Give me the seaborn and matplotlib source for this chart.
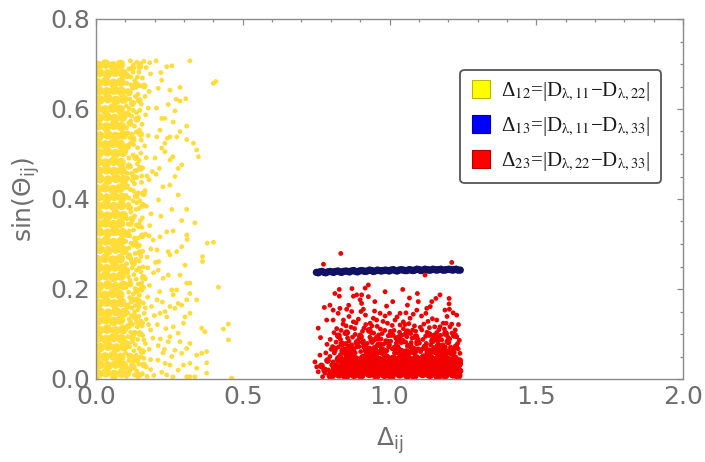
import matplotlib
matplotlib.use("Agg")
import numpy as np
import pandas as pd
import matplotlib.pyplot as plt
from matplotlib.lines import Line2D
from matplotlib.ticker import MultipleLocator
from matplotlib.font_manager import FontProperties
import seaborn as sns

# ---------------------------------------------------------------------------
# Scan points (Delta_ij, sin(Theta_ij))
# ---------------------------------------------------------------------------
# Delta_12: densely populated strip next to Delta = 0
yellow_dense = [
    (0.007, 0.011), (0.034, 0.014), (0.061, 0.010), (0.088, 0.013),
    (0.012, 0.032), (0.040, 0.029), (0.067, 0.033), (0.093, 0.030),
    (0.005, 0.051), (0.031, 0.049), (0.058, 0.052), (0.084, 0.048),
    (0.014, 0.070), (0.042, 0.073), (0.069, 0.069), (0.095, 0.072),
    (0.008, 0.091), (0.035, 0.088), (0.060, 0.092), (0.086, 0.089),
    (0.011, 0.108), (0.038, 0.111), (0.066, 0.107), (0.092, 0.110),
    (0.006, 0.129), (0.032, 0.132), (0.059, 0.128), (0.083, 0.131),
    (0.013, 0.149), (0.041, 0.146), (0.068, 0.150), (0.094, 0.147),
    (0.009, 0.168), (0.036, 0.171), (0.062, 0.167), (0.087, 0.170),
    (0.004, 0.189), (0.030, 0.186), (0.057, 0.190), (0.081, 0.187),
    (0.012, 0.206), (0.040, 0.209), (0.067, 0.205), (0.093, 0.208),
    (0.007, 0.227), (0.033, 0.230), (0.060, 0.226), (0.085, 0.229),
    (0.010, 0.248), (0.037, 0.245), (0.064, 0.249), (0.090, 0.246),
    (0.005, 0.265), (0.031, 0.268), (0.058, 0.264), (0.082, 0.267),
    (0.013, 0.288), (0.041, 0.285), (0.068, 0.289), (0.094, 0.286),
    (0.008, 0.304), (0.035, 0.307), (0.061, 0.303), (0.086, 0.306),
    (0.011, 0.327), (0.039, 0.324), (0.065, 0.328), (0.091, 0.325),
    (0.006, 0.344), (0.032, 0.347), (0.059, 0.343), (0.083, 0.346),
    (0.012, 0.365), (0.040, 0.362), (0.067, 0.366), (0.093, 0.363),
    (0.008, 0.384), (0.034, 0.387), (0.061, 0.383), (0.087, 0.386),
    (0.010, 0.405), (0.037, 0.402), (0.063, 0.406), (0.089, 0.403),
    (0.005, 0.422), (0.031, 0.425), (0.058, 0.421), (0.082, 0.424),
    (0.013, 0.445), (0.041, 0.442), (0.068, 0.446), (0.094, 0.443),
    (0.009, 0.462), (0.036, 0.465), (0.062, 0.461), (0.088, 0.464),
    (0.007, 0.483), (0.033, 0.480), (0.060, 0.484), (0.085, 0.481),
    (0.011, 0.502), (0.039, 0.505), (0.066, 0.501), (0.092, 0.504),
    (0.006, 0.523), (0.032, 0.520), (0.058, 0.524), (0.083, 0.521),
    (0.012, 0.540), (0.040, 0.543), (0.067, 0.539), (0.093, 0.542),
    (0.008, 0.563), (0.035, 0.560), (0.061, 0.564), (0.086, 0.561),
    (0.010, 0.580), (0.037, 0.583), (0.064, 0.579), (0.090, 0.582),
    (0.005, 0.601), (0.031, 0.598), (0.057, 0.602), (0.082, 0.599),
    (0.013, 0.620), (0.041, 0.623), (0.068, 0.619), (0.094, 0.622),
    (0.009, 0.641), (0.036, 0.638), (0.062, 0.642), (0.087, 0.639),
    (0.007, 0.658), (0.033, 0.661), (0.060, 0.657), (0.085, 0.660),
    (0.011, 0.681), (0.039, 0.678), (0.066, 0.682), (0.092, 0.679),
    (0.006, 0.697), (0.032, 0.700), (0.058, 0.696), (0.083, 0.699),
]

# Delta_12: transition zone just outside the dense strip
yellow_mid = [
    (0.108, 0.012), (0.127, 0.027), (0.146, 0.008), (0.115, 0.051), (0.139, 0.043),
    (0.158, 0.061), (0.104, 0.079), (0.124, 0.092), (0.149, 0.101), (0.111, 0.118),
    (0.134, 0.137), (0.155, 0.124), (0.107, 0.162), (0.126, 0.176), (0.146, 0.172),
    (0.116, 0.211), (0.139, 0.196), (0.161, 0.226), (0.105, 0.238), (0.128, 0.257),
    (0.149, 0.281), (0.112, 0.272), (0.134, 0.302), (0.157, 0.318), (0.106, 0.321),
    (0.123, 0.356), (0.145, 0.341), (0.114, 0.381), (0.137, 0.407), (0.159, 0.386),
    (0.104, 0.428), (0.129, 0.449), (0.151, 0.468), (0.112, 0.473), (0.135, 0.492),
    (0.108, 0.517), (0.126, 0.531), (0.152, 0.544), (0.115, 0.568), (0.139, 0.577),
    (0.106, 0.589), (0.124, 0.612), (0.147, 0.619), (0.113, 0.636), (0.137, 0.655),
    (0.105, 0.674), (0.125, 0.691), (0.149, 0.694), (0.164, 0.651), (0.162, 0.412),
    (0.158, 0.203), (0.163, 0.031),
]

# Delta_12: thinning cloud further out
yellow_scatter = [
    (0.104, 0.006), (0.118, 0.021), (0.131, 0.009), (0.112, 0.041), (0.146, 0.033),
    (0.158, 0.012), (0.127, 0.047), (0.171, 0.027), (0.139, 0.018), (0.186, 0.043),
    (0.163, 0.046), (0.197, 0.008), (0.121, 0.031), (0.108, 0.024),
    (0.101, 0.058), (0.115, 0.072), (0.129, 0.063), (0.142, 0.088), (0.108, 0.094),
    (0.153, 0.061), (0.168, 0.079), (0.124, 0.083), (0.181, 0.066), (0.137, 0.053),
    (0.194, 0.091), (0.159, 0.097), (0.212, 0.074),
    (0.103, 0.112), (0.117, 0.128), (0.132, 0.104), (0.146, 0.139), (0.109, 0.147),
    (0.124, 0.121), (0.157, 0.118), (0.171, 0.133), (0.138, 0.126), (0.186, 0.109),
    (0.164, 0.146), (0.199, 0.141), (0.121, 0.141),
    (0.106, 0.158), (0.119, 0.171), (0.134, 0.163), (0.148, 0.186), (0.111, 0.193),
    (0.127, 0.189), (0.161, 0.169), (0.176, 0.182), (0.142, 0.154), (0.189, 0.161),
    (0.156, 0.197), (0.208, 0.176),
    (0.102, 0.204), (0.116, 0.219), (0.129, 0.232), (0.144, 0.211), (0.107, 0.243),
    (0.123, 0.247), (0.153, 0.238), (0.168, 0.223), (0.138, 0.242), (0.182, 0.208),
    (0.196, 0.236), (0.161, 0.249),
    (0.104, 0.256), (0.118, 0.268), (0.133, 0.279), (0.112, 0.291), (0.147, 0.262),
    (0.126, 0.297), (0.159, 0.284), (0.174, 0.271), (0.141, 0.294), (0.187, 0.289),
    (0.203, 0.259),
    (0.101, 0.306), (0.115, 0.318), (0.128, 0.331), (0.109, 0.344), (0.143, 0.313),
    (0.122, 0.349), (0.156, 0.337), (0.137, 0.342), (0.169, 0.322), (0.183, 0.341),
    (0.195, 0.309),
    (0.105, 0.356), (0.119, 0.371), (0.132, 0.362), (0.111, 0.388), (0.146, 0.379),
    (0.126, 0.396), (0.158, 0.358), (0.139, 0.392), (0.172, 0.384), (0.187, 0.367),
    (0.103, 0.408), (0.117, 0.421), (0.131, 0.434), (0.108, 0.446), (0.144, 0.414),
    (0.124, 0.441), (0.155, 0.437), (0.167, 0.419), (0.181, 0.443), (0.139, 0.448),
    (0.106, 0.457), (0.118, 0.472), (0.133, 0.463), (0.112, 0.491), (0.147, 0.486),
    (0.126, 0.498), (0.159, 0.469), (0.171, 0.492), (0.141, 0.478), (0.192, 0.461),
    (0.102, 0.509), (0.116, 0.523), (0.129, 0.536), (0.109, 0.547), (0.142, 0.514),
    (0.123, 0.544), (0.154, 0.531), (0.166, 0.518), (0.137, 0.549), (0.178, 0.541),
    (0.104, 0.558), (0.118, 0.573), (0.131, 0.562), (0.111, 0.589), (0.145, 0.581),
    (0.127, 0.597), (0.157, 0.566), (0.169, 0.587), (0.138, 0.592),
    (0.103, 0.607), (0.116, 0.622), (0.129, 0.614), (0.108, 0.641), (0.143, 0.633),
    (0.124, 0.646), (0.154, 0.611), (0.167, 0.628), (0.136, 0.648), (0.181, 0.639),
    (0.105, 0.657), (0.119, 0.671), (0.132, 0.663), (0.112, 0.689), (0.146, 0.682),
    (0.127, 0.698), (0.158, 0.669), (0.139, 0.704), (0.171, 0.692), (0.152, 0.701),
    (0.186, 0.678), (0.117, 0.707), (0.163, 0.706), (0.183, 0.703), (0.205, 0.707),
    (0.113, 0.015), (0.126, 0.038), (0.141, 0.006), (0.152, 0.049), (0.119, 0.052),
    (0.134, 0.076), (0.147, 0.068), (0.111, 0.079), (0.163, 0.087), (0.128, 0.098),
    (0.118, 0.104), (0.141, 0.116), (0.152, 0.129), (0.113, 0.133), (0.131, 0.149),
    (0.147, 0.161), (0.121, 0.158), (0.168, 0.158), (0.139, 0.178), (0.115, 0.181),
    (0.133, 0.201), (0.156, 0.214), (0.111, 0.227), (0.137, 0.222), (0.147, 0.247),
    (0.121, 0.261), (0.153, 0.272), (0.113, 0.276), (0.136, 0.266), (0.119, 0.302),
    (0.148, 0.297), (0.131, 0.313), (0.114, 0.329), (0.151, 0.352), (0.119, 0.343),
    (0.136, 0.377), (0.112, 0.402), (0.149, 0.396), (0.128, 0.418), (0.156, 0.451),
    (0.121, 0.457), (0.138, 0.463), (0.111, 0.476), (0.153, 0.502), (0.128, 0.521),
    (0.116, 0.536), (0.148, 0.553), (0.121, 0.584), (0.149, 0.597), (0.113, 0.601),
    (0.134, 0.628), (0.149, 0.652), (0.119, 0.654), (0.141, 0.671), (0.126, 0.682),
    (0.178, 0.602), (0.174, 0.451), (0.181, 0.318), (0.176, 0.247), (0.179, 0.121),
    (0.186, 0.021), (0.174, 0.006),
    (0.221, 0.681), (0.241, 0.694), (0.258, 0.696), (0.320, 0.707), (0.224, 0.664),
    (0.212, 0.646), (0.400, 0.657), (0.408, 0.661), (0.286, 0.648), (0.252, 0.642),
    (0.273, 0.622), (0.286, 0.618), (0.306, 0.623), (0.246, 0.610), (0.269, 0.596),
    (0.224, 0.579), (0.235, 0.579), (0.263, 0.571), (0.309, 0.562), (0.286, 0.550),
    (0.275, 0.538), (0.252, 0.538), (0.243, 0.535), (0.309, 0.532), (0.332, 0.524),
    (0.343, 0.509), (0.349, 0.494), (0.292, 0.476), (0.280, 0.468), (0.252, 0.487),
    (0.262, 0.494), (0.235, 0.505), (0.269, 0.450), (0.280, 0.409), (0.228, 0.427),
    (0.252, 0.431), (0.218, 0.553), (0.207, 0.538), (0.235, 0.524), (0.224, 0.513),
    (0.258, 0.377), (0.309, 0.377), (0.337, 0.347), (0.292, 0.352), (0.241, 0.327),
    (0.263, 0.329), (0.218, 0.316), (0.309, 0.320), (0.311, 0.310), (0.379, 0.302),
    (0.400, 0.304), (0.292, 0.294), (0.275, 0.283), (0.246, 0.283), (0.252, 0.276),
    (0.363, 0.272), (0.363, 0.261), (0.303, 0.253), (0.212, 0.242), (0.229, 0.224),
    (0.246, 0.231), (0.286, 0.231), (0.320, 0.213), (0.309, 0.213), (0.417, 0.204),
    (0.258, 0.198), (0.275, 0.198), (0.263, 0.187), (0.320, 0.190), (0.343, 0.176),
    (0.309, 0.176), (0.292, 0.164), (0.280, 0.168), (0.252, 0.161), (0.269, 0.157),
    (0.235, 0.150), (0.303, 0.138), (0.320, 0.146), (0.241, 0.138), (0.218, 0.146),
    (0.451, 0.122), (0.434, 0.111), (0.451, 0.087), (0.360, 0.113), (0.371, 0.105),
    (0.298, 0.124), (0.263, 0.116), (0.280, 0.102), (0.252, 0.094), (0.246, 0.083),
    (0.286, 0.083), (0.320, 0.079), (0.309, 0.068), (0.343, 0.053), (0.360, 0.057),
    (0.377, 0.061), (0.269, 0.064), (0.292, 0.057), (0.258, 0.050), (0.377, 0.036),
    (0.320, 0.035), (0.298, 0.031), (0.343, 0.024), (0.280, 0.020), (0.377, 0.013),
    (0.320, 0.005), (0.337, 0.005), (0.309, 0.005), (0.462, 0.002), (0.262, 0.005),
    (0.241, 0.009), (0.252, 0.031), (0.235, 0.035),
    (0.205, 0.455), (0.213, 0.398), (0.221, 0.362), (0.208, 0.287), (0.217, 0.194),
    (0.226, 0.171), (0.209, 0.121), (0.219, 0.089), (0.228, 0.058), (0.211, 0.042),
    (0.224, 0.015), (0.233, 0.066), (0.238, 0.112), (0.214, 0.261), (0.206, 0.602),
    (0.201, 0.491), (0.216, 0.468),
]

# Delta_13: narrow band at sin(Theta) ~ 0.24
blue_band = [
    (0.751, 0.237), (0.762, 0.238), (0.777, 0.237), (0.789, 0.238), (0.804, 0.238),
    (0.816, 0.239), (0.831, 0.238), (0.843, 0.239), (0.858, 0.239), (0.870, 0.240),
    (0.885, 0.239), (0.897, 0.240), (0.912, 0.240), (0.924, 0.240), (0.939, 0.241),
    (0.951, 0.240), (0.966, 0.241), (0.978, 0.241), (0.993, 0.241), (1.005, 0.242),
    (1.020, 0.241), (1.032, 0.242), (1.047, 0.242), (1.059, 0.241), (1.074, 0.242),
    (1.086, 0.242), (1.101, 0.243), (1.113, 0.242), (1.128, 0.243), (1.140, 0.242),
    (1.155, 0.243), (1.167, 0.243), (1.182, 0.242), (1.194, 0.243), (1.209, 0.243),
    (1.221, 0.243), (1.233, 0.242), (1.241, 0.242),
    (0.757, 0.236), (0.770, 0.239), (0.783, 0.236), (0.797, 0.239), (0.810, 0.237),
    (0.824, 0.240), (0.837, 0.237), (0.851, 0.240), (0.864, 0.238), (0.878, 0.241),
    (0.891, 0.238), (0.905, 0.241), (0.918, 0.239), (0.932, 0.242), (0.945, 0.239),
    (0.959, 0.242), (0.972, 0.240), (0.986, 0.242), (0.999, 0.240), (1.013, 0.243),
    (1.026, 0.240), (1.040, 0.243), (1.053, 0.241), (1.067, 0.243), (1.080, 0.241),
    (1.094, 0.244), (1.107, 0.241), (1.121, 0.244), (1.134, 0.242), (1.148, 0.244),
    (1.161, 0.242), (1.175, 0.244), (1.188, 0.242), (1.202, 0.244), (1.215, 0.242),
    (1.227, 0.244),
]

# Delta_23: dense layer close to sin(Theta) = 0
red_dense = [
    (0.801, 0.008), (0.828, 0.011), (0.851, 0.007), (0.879, 0.010), (0.903, 0.009),
    (0.932, 0.012), (0.955, 0.008), (0.983, 0.010), (1.006, 0.007), (1.035, 0.011),
    (1.061, 0.009), (1.084, 0.008), (1.113, 0.012), (1.137, 0.010), (1.165, 0.007),
    (1.189, 0.009), (1.217, 0.011), (1.233, 0.008),
    (0.814, 0.017), (0.841, 0.016), (0.866, 0.019), (0.891, 0.015), (0.917, 0.018),
    (0.943, 0.016), (0.969, 0.019), (0.994, 0.015), (1.020, 0.017), (1.047, 0.019),
    (1.072, 0.016), (1.098, 0.018), (1.124, 0.015), (1.151, 0.019), (1.176, 0.017),
    (1.202, 0.016), (1.226, 0.018),
    (0.815, 0.027), (0.840, 0.025), (0.867, 0.029), (0.892, 0.026), (0.919, 0.028),
    (0.944, 0.024), (0.970, 0.027), (0.996, 0.029), (1.021, 0.025), (1.048, 0.028),
    (1.073, 0.026), (1.099, 0.027), (1.125, 0.024), (1.150, 0.029), (1.177, 0.026),
    (1.203, 0.028), (1.228, 0.025),
    (0.843, 0.036), (0.871, 0.038), (0.897, 0.035), (0.924, 0.037), (0.949, 0.034),
    (0.975, 0.038), (1.001, 0.036), (1.027, 0.035), (1.053, 0.038), (1.079, 0.036),
    (1.105, 0.034), (1.131, 0.037), (1.157, 0.035), (1.183, 0.038), (1.209, 0.036),
    (1.235, 0.034),
    (0.829, 0.044), (0.858, 0.047), (0.884, 0.043), (0.911, 0.046), (0.935, 0.045),
    (0.962, 0.042), (0.988, 0.047), (1.013, 0.044), (1.040, 0.046), (1.065, 0.043),
    (1.091, 0.045), (1.118, 0.047), (1.142, 0.044), (1.169, 0.046), (1.195, 0.043),
    (1.221, 0.045),
    (0.845, 0.062), (0.872, 0.060), (0.925, 0.063), (0.951, 0.059), (0.978, 0.061),
    (1.030, 0.062), (1.057, 0.058), (1.083, 0.063), (1.135, 0.060), (1.160, 0.062),
    (1.187, 0.059), (1.210, 0.061),
]

# Delta_23: transition zone above the dense layer
red_mid = [
    (0.812, 0.067), (0.838, 0.078), (0.863, 0.071), (0.889, 0.081), (0.915, 0.072),
    (0.940, 0.086), (0.967, 0.076), (0.992, 0.082), (1.018, 0.069), (1.044, 0.084),
    (1.070, 0.074), (1.096, 0.082), (1.121, 0.070), (1.147, 0.085), (1.172, 0.073),
    (1.199, 0.083), (1.226, 0.071),
    (0.826, 0.096), (0.854, 0.103), (0.901, 0.094), (0.931, 0.108), (0.958, 0.091),
    (1.005, 0.099), (1.032, 0.092), (1.061, 0.105), (1.090, 0.094), (1.135, 0.099),
    (1.163, 0.092), (1.191, 0.101), (1.222, 0.097),
    (0.779, 0.020), (0.789, 0.041), (0.768, 0.029), (1.240, 0.018), (1.239, 0.041),
]

# Delta_23: looser points further up
red_scatter = [
    (0.812, 0.058), (0.826, 0.071), (0.839, 0.062), (0.851, 0.079), (0.864, 0.057),
    (0.877, 0.068), (0.889, 0.083), (0.902, 0.061), (0.915, 0.074), (0.928, 0.056),
    (0.941, 0.081), (0.953, 0.066), (0.966, 0.059), (0.979, 0.077), (0.991, 0.063),
    (1.004, 0.084), (1.017, 0.058), (1.029, 0.072), (1.042, 0.064), (1.055, 0.082),
    (1.068, 0.057), (1.080, 0.069), (1.093, 0.078), (1.106, 0.061), (1.119, 0.073),
    (1.131, 0.056), (1.144, 0.084), (1.157, 0.065), (1.169, 0.058), (1.182, 0.076),
    (1.195, 0.062), (1.208, 0.071), (1.221, 0.059), (1.234, 0.067),
    (0.818, 0.082), (0.846, 0.066), (0.871, 0.076), (0.896, 0.072), (0.922, 0.065),
    (0.947, 0.070), (0.972, 0.068), (0.997, 0.071), (1.023, 0.079), (1.049, 0.061),
    (1.074, 0.081), (1.099, 0.067), (1.125, 0.079), (1.150, 0.070), (1.176, 0.066),
    (1.201, 0.080), (1.227, 0.074),
    (0.798, 0.088), (0.822, 0.097), (0.835, 0.108), (0.857, 0.091), (0.869, 0.115),
    (0.883, 0.099), (0.894, 0.087), (0.908, 0.106), (0.919, 0.121), (0.933, 0.093),
    (0.946, 0.102), (0.958, 0.117), (0.971, 0.089), (0.984, 0.108), (0.996, 0.096),
    (1.009, 0.119), (1.021, 0.091), (1.034, 0.104), (1.047, 0.112), (1.059, 0.094),
    (1.072, 0.101), (1.085, 0.118), (1.097, 0.088), (1.110, 0.109), (1.123, 0.095),
    (1.136, 0.114), (1.148, 0.091), (1.161, 0.103), (1.174, 0.097), (1.187, 0.111),
    (1.199, 0.093), (1.213, 0.102), (1.238, 0.086),
    (0.842, 0.122), (0.881, 0.112), (0.927, 0.109), (0.963, 0.098), (1.003, 0.106),
    (1.041, 0.097), (1.066, 0.123), (1.117, 0.122), (1.154, 0.116), (1.193, 0.124),
    (0.811, 0.103), (0.787, 0.077), (0.801, 0.066), (0.783, 0.058),
    (0.806, 0.072), (0.833, 0.088), (0.848, 0.101), (0.862, 0.084), (0.874, 0.093),
    (0.887, 0.071), (0.899, 0.098), (0.911, 0.085), (0.924, 0.079), (0.937, 0.103),
    (0.949, 0.087), (0.961, 0.078), (0.975, 0.101), (0.987, 0.085), (1.000, 0.076),
    (1.013, 0.097), (1.026, 0.086), (1.038, 0.081), (1.051, 0.099), (1.063, 0.075),
    (1.077, 0.091), (1.089, 0.106), (1.102, 0.080), (1.114, 0.088), (1.128, 0.104),
    (1.140, 0.076), (1.152, 0.098), (1.165, 0.084), (1.178, 0.087), (1.190, 0.071),
    (1.205, 0.089), (1.218, 0.096), (1.232, 0.079),
    (0.820, 0.112), (0.852, 0.118), (0.886, 0.125), (0.913, 0.113), (0.940, 0.118),
    (0.969, 0.111), (0.993, 0.124), (1.015, 0.108), (1.053, 0.121), (1.079, 0.109),
    (1.105, 0.115), (1.131, 0.128), (1.168, 0.109), (1.206, 0.116), (1.235, 0.121),
    (0.815, 0.063), (0.833, 0.054), (0.858, 0.073), (0.883, 0.058), (0.907, 0.081),
    (0.932, 0.069), (0.957, 0.074), (0.983, 0.058), (1.010, 0.067), (1.036, 0.056),
    (1.061, 0.073), (1.087, 0.059), (1.112, 0.067), (1.138, 0.064), (1.163, 0.075),
    (1.188, 0.058), (1.214, 0.064), (1.240, 0.057),
    (0.825, 0.146), (0.862, 0.139), (0.918, 0.142), (0.949, 0.151), (0.978, 0.128),
    (1.026, 0.138), (1.070, 0.135), (1.109, 0.140), (1.146, 0.134), (1.196, 0.139),
    (1.217, 0.147), (0.861, 0.164), (0.950, 0.172), (1.068, 0.180), (1.139, 0.161),
    (0.985, 0.194), (1.045, 0.199), (0.872, 0.201),
    (0.746, 0.038), (0.752, 0.027), (0.757, 0.016), (0.772, 0.005), (0.780, 0.013),
    (0.763, 0.053), (0.792, 0.020), (0.803, 0.031), (0.797, 0.050), (0.808, 0.038),
    (0.928, 0.209), (0.917, 0.202), (0.829, 0.199), (0.814, 0.190), (0.829, 0.184),
    (0.905, 0.187), (0.888, 0.187), (0.877, 0.184), (0.928, 0.183), (1.095, 0.190),
    (1.172, 0.187), (1.158, 0.179), (1.203, 0.179), (1.203, 0.167), (0.900, 0.176),
    (0.905, 0.168), (1.098, 0.172), (1.144, 0.172), (1.011, 0.172), (0.797, 0.164),
    (0.778, 0.159), (0.808, 0.153), (0.990, 0.162), (1.061, 0.164), (0.831, 0.157),
    (0.854, 0.155), (0.871, 0.150), (0.911, 0.155), (0.903, 0.150), (1.127, 0.157),
    (1.124, 0.146), (1.189, 0.153), (1.204, 0.155), (0.968, 0.146), (0.985, 0.140),
    (1.000, 0.146), (1.036, 0.146), (1.056, 0.147), (1.093, 0.153), (1.081, 0.144),
    (1.229, 0.142), (0.808, 0.131), (0.786, 0.131), (0.843, 0.131), (0.757, 0.113),
    (0.765, 0.092), (0.877, 0.127), (0.894, 0.133), (0.956, 0.131), (0.934, 0.124),
    (0.945, 0.135), (1.019, 0.131), (1.036, 0.120), (1.047, 0.127), (1.161, 0.131),
    (1.183, 0.124), (1.172, 0.116), (1.224, 0.109), (1.229, 0.094), (1.212, 0.122),
    (0.834, 0.279), (0.775, 0.255), (1.212, 0.259), (1.121, 0.231),
]

legend_labels = [
    r"Δ$_{12}$=|D$_{\mathrm{λ},11}$−D$_{\mathrm{λ},22}$|",
    r"Δ$_{13}$=|D$_{\mathrm{λ},11}$−D$_{\mathrm{λ},33}$|",
    r"Δ$_{23}$=|D$_{\mathrm{λ},22}$−D$_{\mathrm{λ},33}$|",
]
x_ticks = [0.0, 0.5, 1.0, 1.5, 2.0]
y_ticks = [0.0, 0.2, 0.4, 0.6, 0.8]

# ---------------------------------------------------------------------------
YELLOW = "#ffdc37"
BLUE = "#101064"
RED = "#f00000"
GREY = "#6e6e6e"

sns.set_theme(style="white")
plt.rcParams["font.family"] = ["DejaVu Sans"]
plt.rcParams["mathtext.fontset"] = "dejavusans"

fig = plt.figure(figsize=(7.05, 4.62), dpi=100)
ax = fig.add_axes([96 / 705, 1 - 379 / 462, 587 / 705, 360 / 462])


def to_frame(points):
    return pd.DataFrame(points, columns=["delta", "sin_theta"])


layers = [
    (yellow_dense, YELLOW, 48),
    (yellow_mid, YELLOW, 24),
    (yellow_scatter, YELLOW, 12),
    (blue_band, BLUE, 28),
    (red_dense, RED, 44),
    (red_mid, RED, 24),
    (red_scatter, RED, 12),
]
for pts, col, size in layers:
    sns.scatterplot(data=to_frame(pts), x="delta", y="sin_theta", color=col,
                    s=size, linewidth=0, edgecolor="none", alpha=1.0,
                    legend=False, ax=ax)

ax.set_xlim(0.0, 2.0)
ax.set_ylim(0.0, 0.8)
ax.set_xticks(x_ticks)
ax.set_yticks(y_ticks)
ax.set_xticklabels([f"{v:.1f}" for v in x_ticks])
ax.set_yticklabels([f"{v:.1f}" for v in y_ticks])
ax.xaxis.set_minor_locator(MultipleLocator(0.1))
ax.yaxis.set_minor_locator(MultipleLocator(0.05))
ax.tick_params(which="both", direction="in", top=True, right=True,
               color="#8a8a8a", width=0.9)
ax.tick_params(which="major", length=4.0, labelsize=18, labelcolor=GREY, pad=4)
ax.tick_params(which="minor", length=2.5)
for sp in ax.spines.values():
    sp.set_color("#8a8a8a")
    sp.set_linewidth(1.0)

ax.set_xlabel(r"$\Delta_{\mathrm{ij}}$", fontsize=18, color=GREY, labelpad=12)
ax.set_ylabel(r"sin($\Theta_{\mathrm{ij}}$)", fontsize=18, color=GREY, labelpad=6)

handles = [
    Line2D([], [], ls="none", marker="s", markersize=13,
           markerfacecolor=fc, markeredgecolor=ec, markeredgewidth=0.8)
    for fc, ec in [("#ffff00", "#b8b800"), ("#0000ff", "#0000a0"), ("#ff0000", "#b00000")]
]
prop = FontProperties(family="Liberation Serif", size=15, math_fontfamily="stix")
leg = ax.legend(handles, legend_labels, loc="upper right",
                bbox_to_anchor=(0.9625, 0.858), prop=prop, frameon=True,
                fancybox=True, handlelength=1.0, handletextpad=0.45,
                labelspacing=0.6, borderpad=0.5, borderaxespad=0.0)
frame = leg.get_frame()
frame.set_edgecolor("#555555")
frame.set_linewidth(1.3)
frame.set_facecolor("white")
frame.set_alpha(1.0)
for t in leg.get_texts():
    t.set_color("#1a1a1a")

fig.savefig("out.png", dpi=100)
